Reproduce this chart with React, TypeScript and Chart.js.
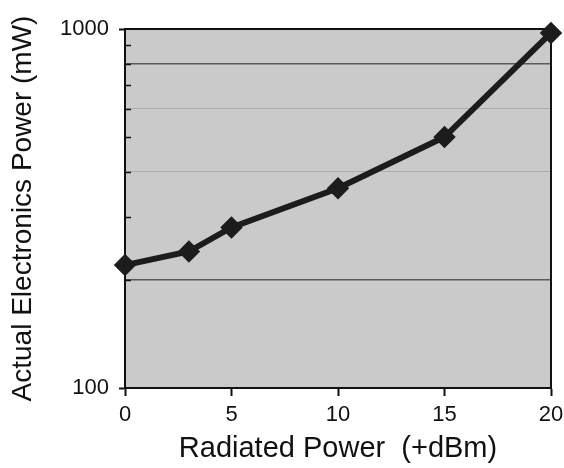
import React, { useEffect, useRef } from "react";
import { Chart, registerables } from "chart.js";

Chart.register(...registerables);

const radiatedPower = [0, 3, 5, 10, 15, 20];
const electronicsPower = [220, 240, 280, 360, 500, 975];
const xTicks = [0, 5, 10, 15, 20];
const yLabelled = [100, 1000];
const darkGrid = [200, 800];
const lightGrid = [400, 600];
const minorTicks = [200, 300, 400, 500, 600, 700, 800, 900];

const FONT = "'Liberation Sans', Arial, Helvetica, sans-serif";

const framePlugin = {
  id: "frame",
  beforeDraw(chart: any) {
    const { ctx, chartArea } = chart;
    ctx.save();
    ctx.fillStyle = "#cacaca";
    ctx.fillRect(chartArea.left, chartArea.top, chartArea.right - chartArea.left, chartArea.bottom - chartArea.top);
    ctx.restore();
  },
  beforeDatasetsDraw(chart: any) {
    const { ctx, chartArea, scales } = chart;
    ctx.save();
    ctx.strokeStyle = "#111";
    ctx.lineWidth = 2;
    ctx.strokeRect(chartArea.left, chartArea.top, chartArea.right - chartArea.left, chartArea.bottom - chartArea.top);
    ctx.lineWidth = 1.5;
    for (const v of minorTicks) {
      const y = Math.round(scales.y.getPixelForValue(v)) + 0.5;
      ctx.beginPath();
      ctx.moveTo(chartArea.left, y);
      ctx.lineTo(chartArea.left + 6, y);
      ctx.stroke();
    }
    ctx.restore();
  },
};

export default function App() {
  const ref = useRef<HTMLCanvasElement | null>(null);
  useEffect(() => {
    if (!ref.current) return;
    const chart = new Chart(ref.current, {
      type: "line",
      data: {
        datasets: [
          {
            data: radiatedPower.map((x, i) => ({ x, y: electronicsPower[i] })),
            borderColor: "#1c1c1c",
            backgroundColor: "#1c1c1c",
            borderWidth: 6,
            pointStyle: "rectRot",
            pointRadius: 7,
            pointBackgroundColor: "#1c1c1c",
            pointBorderColor: "#1c1c1c",
            clip: false as any,
          },
        ],
      },
      plugins: [framePlugin],
      options: {
        animation: false,
        responsive: false,
        layout: { padding: { top: 29, right: 10, left: 0, bottom: 0 } },
        plugins: { legend: { display: false }, tooltip: { enabled: false } },
        scales: {
          x: {
            type: "linear",
            min: 0,
            max: 20,
            afterFit: (s: any) => {
              s.height = 80;
              s.paddingLeft = 0;
              s.paddingRight = 0;
            },
            afterBuildTicks: (s: any) => {
              s.ticks = xTicks.map((v) => ({ value: v }));
            },
            ticks: { color: "#111", font: { family: FONT, size: 22 }, padding: 6, maxRotation: 0, autoSkip: false },
            grid: { drawOnChartArea: false, drawTicks: true, tickLength: 8, tickColor: "#111", tickWidth: 2 },
            border: { display: true, color: "#111", width: 2 },
            title: {
              display: true,
              text: "Radiated Power  (+dBm)",
              color: "#111",
              font: { family: FONT, size: 29 },
              padding: { top: 0, bottom: 2 },
            },
          },
          y: {
            type: "logarithmic",
            min: 100,
            max: 1000,
            afterFit: (s: any) => {
              s.width = 125;
              s.paddingTop = 0;
              s.paddingBottom = 0;
            },
            ticks: {
              color: "#111",
              font: { family: FONT, size: 22 },
              padding: 10,
              autoSkip: false,
              callback: (v: any) => (yLabelled.includes(Number(v)) ? String(v) : ""),
            },
            grid: {
              drawTicks: true,
              tickLength: 6,
              tickWidth: 2,
              color: (c: any) =>
                darkGrid.includes(c.tick?.value) ? "#5a5a5a" : lightGrid.includes(c.tick?.value) ? "#acacac" : "rgba(0,0,0,0)",
              lineWidth: (c: any) => (darkGrid.includes(c.tick?.value) ? 1.5 : 1),
              tickColor: (c: any) => (yLabelled.includes(c.tick?.value) ? "#111" : "rgba(0,0,0,0)"),
            },
            border: { display: true, color: "#111", width: 2 },
            title: {
              display: true,
              text: "Actual Electronics Power (mW)",
              color: "#111",
              font: { family: FONT, size: 28 },
              padding: { top: 6, bottom: 0 },
            },
          },
        },
      },
    });
    return () => chart.destroy();
  }, []);
  return (
    <canvas
      ref={ref}
      width={564}
      height={468}
      style={{ position: "absolute", left: 0, top: 0, width: 564, height: 468 }}
    />
  );
}
